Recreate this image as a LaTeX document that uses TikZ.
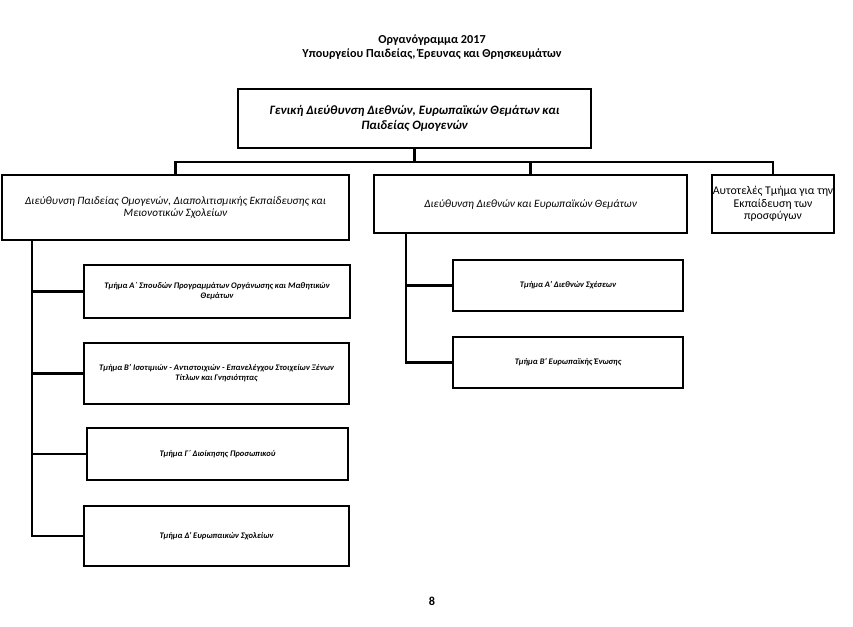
\documentclass[tikz,border=0pt]{standalone}
\usepackage{fontspec}
\setmainfont{Carlito}
\begin{document}
\begin{tikzpicture}[x=1pt,y=1pt,
  box/.style={draw=black, line width=2.3pt, fill=white, align=center, inner sep=0pt},
  conn/.style={draw=black, line width=2.3pt},
  hdr/.style={font=\fontsize{12.2}{14}\selectfont\bfseries, align=center},
  topfont/.style={font=\fontsize{12.8}{15.5}\selectfont\bfseries\itshape},
  midfont/.style={font=\fontsize{11.2}{12.5}\selectfont\itshape},
  rfont/.style={font=\fontsize{11.8}{12.5}\selectfont},
  subfont/.style={font=\fontsize{8.5}{9.8}\selectfont\bfseries\itshape}
]
\useasboundingbox (0,0) rectangle (853,-626);

\node[hdr] (title) at (432,-47) {Οργανόγραμμα 2017\\Υπουργείου Παιδείας, Έρευνας και Θρησκευμάτων};

\node[box, topfont, minimum width=353, minimum height=59] (top) at (414.5,-118.5)
  {Γενική Διεύθυνση Διεθνών, Ευρωπαϊκών Θεμάτων και\\Παιδείας Ομογενών};

\node[box, midfont, minimum width=347, minimum height=65] (left) at (175.5,-207.5)
  {Διεύθυνση Παιδείας Ομογενών, Διαπολιτισμικής Εκπαίδευσης και\\Μειονοτικών Σχολείων};
\node[box, midfont, minimum width=313, minimum height=58] (mid) at (530.5,-204)
  {Διεύθυνση Διεθνών και Ευρωπαϊκών Θεμάτων};
\node[box, rfont, minimum width=122, minimum height=58] (right) at (773,-204)
  {Αυτοτελές Τμήμα για την\\Εκπαίδευση των\\προσφύγων};

\node[box, subfont, minimum width=266, minimum height=53] (L1) at (217,-291.5)
  {Τμήμα Α΄ Σπουδών Προγραμμάτων Οργάνωσης και Μαθητικών\\Θεμάτων};
\node[box, subfont, minimum width=265, minimum height=61] (L2) at (216.5,-373.5)
  {Τμήμα Β' Ισοτιμιών - Αντιστοιχιών - Επανελέγχου Στοιχείων Ξένων\\Τίτλων και Γνησιότητας};
\node[box, subfont, minimum width=261, minimum height=52] (L3) at (217.5,-454)
  {Τμήμα Γ΄ Διοίκησης Προσωπικού};
\node[box, subfont, minimum width=265, minimum height=60] (L4) at (216.5,-536)
  {Τμήμα Δ' Ευρωπαικών Σχολείων};

\node[box, subfont, minimum width=230, minimum height=51] (M1) at (568,-285.5)
  {Τμήμα Α' Διεθνών Σχέσεων};
\node[box, subfont, minimum width=230, minimum height=51] (M2) at (568,-362.5)
  {Τμήμα Β' Ευρωπαϊκής Ένωσης};

\node[font=\fontsize{12.2}{13}\selectfont\bfseries] (page) at (432,-601) {8};

\coordinate (bar) at (0,-162);
\coordinate (ls) at (32,0);
\coordinate (ms) at (406,0);

\draw[conn] (top.south) -- (top.south |- bar);
\draw[conn] (left.north) -- (left.north |- bar) -- (right.north |- bar) -- (right.north);
\draw[conn] (mid.north) -- (mid.north |- bar);

\draw[conn] (left.south -| ls) |- (L4.west);
\draw[conn] (ls |- L1.west) -- (L1.west);
\draw[conn] (ls |- L2.west) -- (L2.west);
\draw[conn] (ls |- L3.west) -- (L3.west);

\draw[conn] (mid.south -| ms) |- (M2.west);
\draw[conn] (ms |- M1.west) -- (M1.west);
\end{tikzpicture}
\end{document}
